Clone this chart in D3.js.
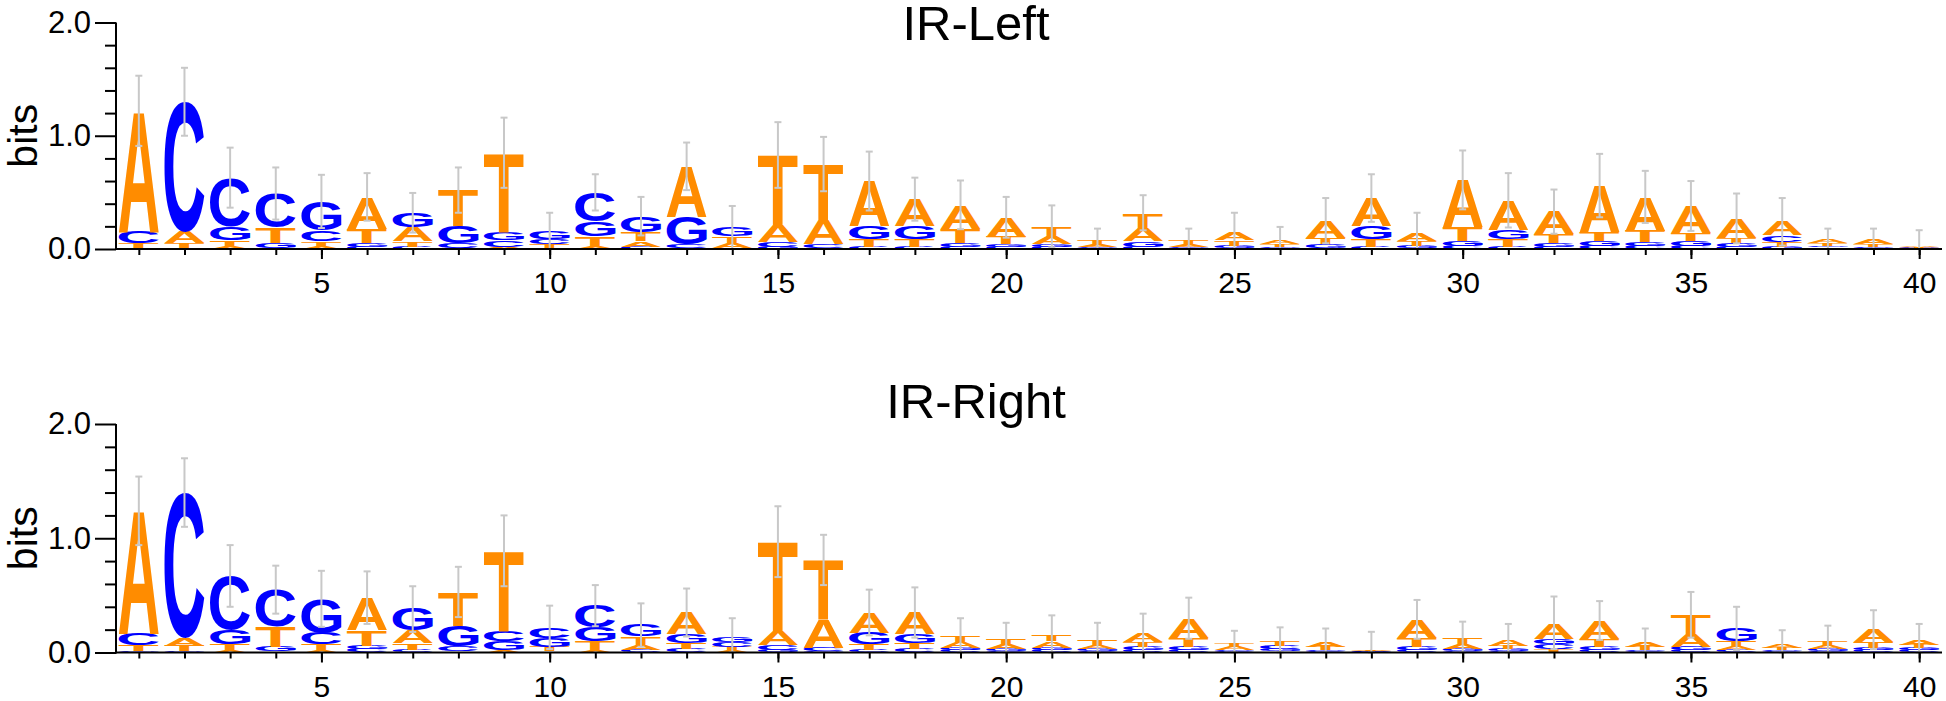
<!DOCTYPE html>
<html>
<head>
<meta charset="utf-8">
<script src="https://cdn.jsdelivr.net/npm/d3@7"></script>
<style>
  html, body { margin: 0; padding: 0; background: #fff; }
  svg { display: block; }
  text { font-family: "Liberation Sans", Arial, Helvetica, sans-serif; }
</style>
</head>
<body>
<svg id="chart" width="1946" height="701"></svg>
<script>
// ---------------- data ----------------
const positions = [1,2,3,4,5,6,7,8,9,10,11,12,13,14,15,16,17,18,19,20,21,22,23,24,25,26,27,28,29,30,31,32,33,34,35,36,37,38,39,40];
const xTickLabels = [5,10,15,20,25,30,35,40];
const yMajorTicks = [0, 1, 2];
const yMinorTicks = [0.2,0.4,0.6,0.8,1.2,1.4,1.6,1.8];
const bases = ["A","C","G","T"];

// IR-Left (bits per letter)
const leftA = [1.07,0.10,0.02,0.01,0.02,0.28,0.12,0.01,0.02,0.01,0.02,0.05,0.45,0.04,0.15,0.22,0.40,0.24,0.21,0.17,0.07,0.02,0.11,0.025,0.07,0.03,0.15,0.25,0.07,0.42,0.26,0.20,0.41,0.30,0.24,0.17,0.12,0.03,0.04,0.006];
const leftC = [0.10,1.15,0.43,0.30,0.09,0.02,0.02,0.04,0.06,0.05,0.26,0.02,0.03,0.01,0.04,0.03,0.02,0.02,0.02,0.02,0.02,0.01,0.02,0.01,0.01,0.01,0.01,0.02,0.01,0.03,0.02,0.02,0.03,0.03,0.03,0.02,0.06,0.015,0.01,0.005];
const leftG = [0.01,0.01,0.12,0.04,0.26,0.03,0.13,0.15,0.07,0.07,0.13,0.14,0.24,0.08,0.02,0.01,0.11,0.11,0.03,0.02,0.02,0.01,0.05,0.01,0.02,0.01,0.03,0.11,0.02,0.04,0.08,0.03,0.04,0.03,0.04,0.03,0.02,0.015,0.01,0.005];
const leftT = [0.04,0.04,0.06,0.14,0.05,0.13,0.05,0.32,0.70,0.03,0.09,0.08,0.01,0.06,0.62,0.49,0.07,0.07,0.13,0.07,0.09,0.03,0.14,0.03,0.05,0.025,0.06,0.07,0.04,0.12,0.07,0.08,0.08,0.10,0.07,0.05,0.04,0.02,0.02,0.005];
const leftErr = [0.31,0.30,0.265,0.23,0.235,0.21,0.175,0.20,0.31,0.16,0.16,0.17,0.21,0.19,0.29,0.24,0.26,0.19,0.215,0.18,0.185,0.11,0.155,0.105,0.17,0.12,0.20,0.21,0.18,0.26,0.24,0.195,0.28,0.23,0.22,0.22,0.21,0.10,0.10,0.145];

// IR-Right (bits per letter)
const rightA = [1.08,0.07,0.02,0.01,0.02,0.28,0.11,0.01,0.02,0.01,0.02,0.04,0.19,0.02,0.12,0.25,0.18,0.19,0.05,0.04,0.06,0.03,0.08,0.17,0.03,0.01,0.04,0.006,0.16,0.04,0.05,0.14,0.16,0.04,0.11,0.03,0.035,0.03,0.11,0.04];
const rightC = [0.10,1.27,0.47,0.32,0.10,0.03,0.02,0.04,0.09,0.09,0.19,0.02,0.03,0.04,0.05,0.03,0.02,0.03,0.02,0.01,0.02,0.01,0.02,0.02,0.01,0.03,0.01,0.005,0.02,0.015,0.01,0.04,0.02,0.01,0.02,0.02,0.01,0.01,0.02,0.02];
const rightG = [0.01,0.01,0.13,0.04,0.30,0.03,0.19,0.18,0.08,0.08,0.12,0.10,0.08,0.05,0.02,0.01,0.10,0.08,0.02,0.02,0.02,0.02,0.03,0.03,0.01,0.02,0.01,0.005,0.03,0.02,0.02,0.05,0.03,0.01,0.03,0.11,0.01,0.02,0.02,0.02];
const rightT = [0.05,0.05,0.05,0.18,0.05,0.14,0.06,0.30,0.70,0.04,0.08,0.08,0.05,0.03,0.78,0.52,0.05,0.05,0.06,0.06,0.06,0.05,0.04,0.08,0.03,0.04,0.03,0.005,0.08,0.06,0.03,0.03,0.07,0.03,0.17,0.05,0.02,0.045,0.05,0.03];
const rightErr = [0.30,0.30,0.27,0.21,0.245,0.23,0.20,0.22,0.31,0.19,0.18,0.19,0.21,0.16,0.31,0.22,0.20,0.22,0.15,0.13,0.165,0.15,0.17,0.18,0.11,0.12,0.12,0.16,0.17,0.135,0.14,0.23,0.17,0.12,0.20,0.19,0.12,0.13,0.17,0.14];

const panels = [
  { title: "IR-Left",  A: leftA,  C: leftC,  G: leftG,  T: leftT,  err: leftErr,  y0: 249,   y2: 22.5, titleY: 40 },
  { title: "IR-Right", A: rightA, C: rightC, G: rightG, T: rightT, err: rightErr, y0: 652.5, y2: 424,  titleY: 418 }
];

// ---------------- style ----------------
const colors = { A: "#ff8c00", T: "#ff8c00", C: "#0000ff", G: "#0000ff" };
const errColor = "#c8c8c8";
const letterFont = '"Liberation Sans", Arial, Helvetica, sans-serif';

// glyph ink metrics
const ctx = document.createElement("canvas").getContext("2d");
ctx.font = "bold 100px " + letterFont;
const metrics = {};
bases.forEach(b => {
  const m = ctx.measureText(b);
  metrics[b] = { left: m.actualBoundingBoxLeft, right: m.actualBoundingBoxRight,
                 asc: m.actualBoundingBoxAscent, desc: m.actualBoundingBoxDescent };
});

const svg = d3.select("#chart");
const x = d3.scaleLinear().domain([0.5, 40.5]).range([116, 1942]);
const step = x(2) - x(1);
const letterW = step * 0.88;

panels.forEach(p => {
  const y = d3.scaleLinear().domain([0, 2]).range([p.y0, p.y2]);
  const g = svg.append("g");

  // title
  g.append("text").attr("x", 976).attr("y", p.titleY)
    .attr("text-anchor", "middle").attr("font-size", 49).attr("fill", "#000")
    .text(p.title);

  // y label
  g.append("text")
    .attr("transform", `translate(36.5,${(p.y0 + p.y2) / 2}) rotate(-90)`)
    .attr("text-anchor", "middle").attr("font-size", 41).attr("fill", "#000")
    .text("bits");

  // stacks
  const stacksG = g.append("g");
  positions.forEach((pos, i) => {
    const items = bases.map(b => ({ b, v: p[b][i] }))
      .sort((a, c) => a.v - c.v);
    let cum = 0;
    const x0 = x(pos) - letterW / 2;
    items.forEach(it => {
      const yBot = y(cum);
      const yTop = y(cum + it.v);
      const h = yBot - yTop;
      cum += it.v;
      if (h <= 0) return;
      const m = metrics[it.b];
      const iw = m.left + m.right, ih = m.asc + m.desc;
      stacksG.append("text")
        .attr("font-size", 100).attr("font-weight", "bold")
        .attr("fill", colors[it.b])
        .attr("transform", `translate(${x0},${yTop}) scale(${letterW / iw},${h / ih}) translate(${m.left},${m.asc})`)
        .text(it.b);
    });
    // error bar
    const e = p.err[i];
    const top = cum + e, bot = Math.max(0, cum - e);
    const xc = x(pos);
    const eb = stacksG.append("g").attr("stroke", errColor).attr("stroke-width", 2).attr("fill", "none");
    eb.append("line").attr("x1", xc).attr("x2", xc).attr("y1", y(top)).attr("y2", y(bot));
    eb.append("line").attr("x1", xc - 3.5).attr("x2", xc + 3.5).attr("y1", y(top)).attr("y2", y(top));
    eb.append("line").attr("x1", xc - 3.5).attr("x2", xc + 3.5).attr("y1", y(bot)).attr("y2", y(bot));
  });

  // y axis
  const yMajor = d3.axisLeft(y).tickValues(yMajorTicks).tickSize(21).tickPadding(4).tickSizeOuter(0)
    .tickFormat(d3.format(".1f"));
  const yMin = d3.axisLeft(y).tickValues(yMinorTicks).tickSize(11).tickSizeOuter(0).tickFormat("");
  const ya = g.append("g").attr("transform", "translate(116,0)").call(yMajor);
  const yb = g.append("g").attr("transform", "translate(116,0)").call(yMin);
  [ya, yb].forEach(a => {
    a.selectAll("path").remove();
    a.selectAll("line").attr("stroke", "#000").attr("stroke-width", 2);
    a.selectAll("text").attr("font-size", 31).attr("fill", "#000")
      .attr("font-family", '"Liberation Sans", Arial, sans-serif');
  });
  g.append("line").attr("x1", 116).attr("x2", 116).attr("y1", y(0) + 1).attr("y2", y(2))
    .attr("stroke", "#000").attr("stroke-width", 2);

  // x axis
  const xMinor = d3.axisBottom(x).tickValues(positions).tickSize(6).tickSizeOuter(0).tickFormat("");
  const xMajor = d3.axisBottom(x).tickValues(xTickLabels).tickSize(10).tickPadding(13).tickSizeOuter(0)
    .tickFormat(d3.format("d"));
  const xa = g.append("g").attr("transform", `translate(0,${p.y0})`).call(xMinor);
  const xb = g.append("g").attr("transform", `translate(0,${p.y0})`).call(xMajor);
  [xa, xb].forEach(a => {
    a.selectAll("path").remove();
    a.selectAll("line").attr("stroke", "#000").attr("stroke-width", 2);
    a.selectAll("text").attr("font-size", 30).attr("fill", "#000")
      .attr("font-family", '"Liberation Sans", Arial, sans-serif');
  });
  g.append("line").attr("x1", 115).attr("x2", 1942).attr("y1", y(0)).attr("y2", y(0))
    .attr("stroke", "#000").attr("stroke-width", 2);
});
</script>
</body>
</html>
